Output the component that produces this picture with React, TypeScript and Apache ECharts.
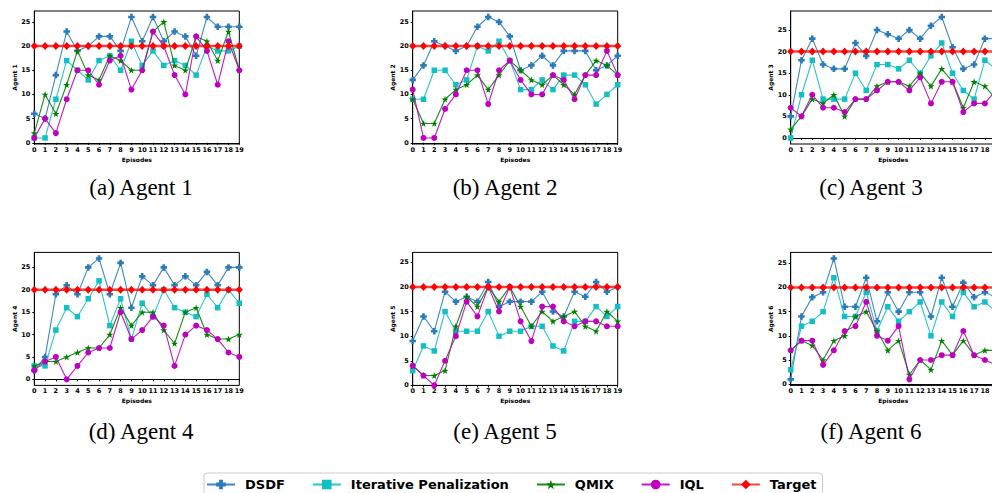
import React, { useEffect, useRef } from 'react';
import * as echarts from 'echarts';

const episodes = ['0','1','2','3','4','5','6','7','8','9','10','11','12','13','14','15','16','17','18','19'];
const seriesNames = ['DSDF', 'Iterative Penalization', 'QMIX', 'IQL', 'Target'];
const agentLabels = ['Agent 1', 'Agent 2', 'Agent 3', 'Agent 4', 'Agent 5', 'Agent 6'];
const captions = ['(a) Agent 1', '(b) Agent 2', '(c) Agent 3', '(d) Agent 4', '(e) Agent 5', '(f) Agent 6'];
const yTicks = [0, 5, 10, 15, 20, 25];

const target = [20,20,20,20,20,20,20,20,20,20,20,20,20,20,20,20,20,20,20,20];

const agent1DSDF = [6,5,14,23,19,20,22,22,19,26,21,26,21,23,22,18,26,24,24,24];
const agent1IP   = [1,1,9,17,15,13,17,18,15,21,16,19,16,17,16,14,20,19,19,20];
const agent1QMIX = [2,10,6,12,19,14,13,18,17,15,15,23,25,16,15,22,21,17,23,15];
const agent1IQL  = [1,5,2,9,15,15,12,17,18,11,15,23,20,14,10,22,19,12,21,15];

const agent2DSDF = [13,16,21,20,19,20,24,26,25,22,15,16,18,16,19,19,19,15,16,18];
const agent2IP   = [9,9,15,15,12,13,20,19,21,17,11,11,13,11,14,14,12,8,10,12];
const agent2QMIX = [9,4,4,9,11,12,14,11,14,17,15,13,12,14,12,10,14,17,16,14];
const agent2IQL  = [11,1,1,7,10,15,15,8,15,17,13,10,10,14,13,9,14,14,19,14];

const agent3DSDF = [5,18,23,17,16,16,22,19,25,24,23,25,23,26,28,21,16,17,23,23];
const agent3IP   = [0,10,18,9,9,9,15,11,17,17,16,18,15,19,22,15,11,9,18,16];
const agent3QMIX = [2,5,9,8,10,5,9,9,12,13,13,12,15,12,16,13,7,13,12,9];
const agent3IQL  = [7,5,10,7,7,6,9,9,11,13,13,11,14,8,13,13,6,8,8,11];

const agent4DSDF = [2,5,19,21,19,25,27,19,26,16,23,21,25,21,23,21,24,21,25,25];
const agent4IP   = [3,3,11,16,14,18,22,12,18,9,17,14,20,16,15,14,19,16,20,17];
const agent4QMIX = [3,4,4,5,6,7,7,10,16,12,15,15,11,8,15,16,10,9,9,10];
const agent4IQL  = [2,4,5,0,3,6,7,7,15,9,11,14,12,3,10,12,11,9,6,5];

const agent5DSDF = [9,14,11,19,17,18,17,21,16,17,17,17,19,15,14,19,18,21,19,20];
const agent5IP   = [3,8,7,15,11,11,11,15,10,11,11,12,12,8,7,13,13,16,14,16];
const agent5QMIX = [4,2,2,3,12,18,16,20,17,20,16,12,15,13,14,15,12,11,15,13];
const agent5IQL  = [4,2,0,5,10,17,14,20,15,20,13,9,16,16,13,12,13,13,12,12];

const agent6DSDF = [1,14,18,19,26,16,16,22,13,19,15,19,19,14,22,16,21,18,19,18];
const agent6IP   = [3,12,13,15,22,14,14,19,11,16,13,15,17,10,17,14,19,16,17,15];
const agent6QMIX = [7,9,8,5,9,10,14,15,11,7,9,2,5,3,9,6,9,6,7,7];
const agent6IQL  = [7,9,9,4,7,11,12,17,10,9,12,1,5,5,6,6,11,6,5,4];

const agentData = [
  [agent1DSDF, agent1IP, agent1QMIX, agent1IQL, target],
  [agent2DSDF, agent2IP, agent2QMIX, agent2IQL, target],
  [agent3DSDF, agent3IP, agent3QMIX, agent3IQL, target],
  [agent4DSDF, agent4IP, agent4QMIX, agent4IQL, target],
  [agent5DSDF, agent5IP, agent5QMIX, agent5IQL, target],
  [agent6DSDF, agent6IP, agent6QMIX, agent6IQL, target],
];

const yMins = [-0.25, -0.25, -1.4, -1.35, 0, -0.25];
const yMaxs = [27.25, 27.25, 29.4, 28.35, 27, 27.25];

const colors = ['#2b7bba', '#12bfc4', '#008000', '#bf00bf', '#ff0000'];
const PLUS = 'path://M3,0H7V3H10V7H7V10H3V7H0V3H3Z';
const STAR = 'path://M50,0L61.8,35.1L98.1,35.1L68.8,56.8L79.4,90.5L50,69.1L20.6,90.5L31.2,56.8L1.9,35.1L38.2,35.1Z';
const symbols = [PLUS, 'rect', STAR, 'circle', 'diamond'];
const symbolSizes: any[] = [6.5, 5.5, 7, 6, [7, 8]];

const FONT = 'DejaVu Sans';
const colLefts = [34.3, 412.7, 790.7];
const rowTops = [11, 252.4];
const gridW = 205;
const gridH = 133;
const captionX = [141, 505, 871];
const captionY = [187, 431];

export default function App() {
  const ref = useRef<HTMLDivElement>(null);
  useEffect(() => {
    if (!ref.current) return;
    const chart = echarts.init(ref.current, undefined, { renderer: 'svg' });
    const grids: any[] = [];
    const xAxes: any[] = [];
    const yAxes: any[] = [];
    const series: any[] = [];
    const graphics: any[] = [];
    for (let i = 0; i < 6; i++) {
      const col = i % 3;
      const row = Math.floor(i / 3);
      const clipped = col === 2;
      grids.push({
        left: colLefts[col], top: rowTops[row], width: gridW, height: gridH,
        show: true, borderColor: '#000', borderWidth: 1, containLabel: false,
      });
      xAxes.push({
        type: 'category', gridIndex: i, data: episodes, boundaryGap: false,
        name: 'Episodes', nameLocation: 'middle', nameGap: 12,
        nameTextStyle: { fontFamily: FONT, fontWeight: 'bold', fontSize: 6, color: '#000' },
        axisLine: { show: true, lineStyle: { color: '#000', width: 1 } },
        axisTick: { show: true, length: 2, alignWithLabel: true, interval: 0, lineStyle: { color: '#000' } },
        axisLabel: {
          interval: 0, margin: 2.5, fontFamily: FONT, fontWeight: 'bold', fontSize: 6.5, color: '#000',
          formatter: (v: string) => (clipped && v === '19' ? '' : v),
        },
        splitLine: { show: false },
      });
      yAxes.push({
        type: 'value', gridIndex: i, min: yMins[i], max: yMaxs[i],
        name: agentLabels[i], nameLocation: 'middle', nameGap: 15, nameRotate: 90,
        nameTextStyle: { fontFamily: FONT, fontWeight: 'bold', fontSize: 6, color: '#000' },
        axisLine: { show: true, lineStyle: { color: '#000', width: 1 } },
        axisTick: { show: true, length: 2, customValues: yTicks, lineStyle: { color: '#000' } },
        axisLabel: { customValues: yTicks, margin: 4, fontFamily: FONT, fontWeight: 'bold', fontSize: 6.5, color: '#000' },
        splitLine: { show: false },
      });
      for (let s = 0; s < 5; s++) {
        const isTarget = s === 4;
        series.push({
          type: 'line', name: seriesNames[s], xAxisIndex: i, yAxisIndex: i,
          data: agentData[i][s],
          symbol: symbols[s], symbolSize: symbolSizes[s], showAllSymbol: true,
          itemStyle: { color: colors[s], opacity: 1 },
          lineStyle: { color: colors[s], width: isTarget ? 2.5 : 1.1, opacity: isTarget ? 0.75 : 0.9 },
          z: 2 + s,
        });
      }
      graphics.push({
        type: 'text', x: captionX[col], y: captionY[row],
        style: { text: captions[i], font: '23px "Liberation Serif"', fill: '#000', textAlign: 'center', textVerticalAlign: 'middle' },
      });
    }
    chart.setOption({
      animation: false,
      backgroundColor: '#fff',
      grid: grids,
      xAxis: xAxes,
      yAxis: yAxes,
      series,
      graphic: graphics,
      legend: {
        data: seriesNames, left: 204, top: 473,
        padding: [5, 6, 8, 2],
        itemWidth: 28, itemHeight: 12, itemGap: 27,
        borderColor: '#cccccc', borderWidth: 1, borderRadius: 3,
        textStyle: { fontFamily: FONT, fontWeight: 'bold', fontSize: 13, color: '#000', padding: [0, 0, 0, 5] },
      },
    });
    return () => chart.dispose();
  }, []);
  return (
    <div style={{ position: 'fixed', left: 0, top: 0, width: 992, height: 493, overflow: 'hidden', background: '#fff' }}>
      <div ref={ref} style={{ width: 1012, height: 493 }} />
    </div>
  );
}
